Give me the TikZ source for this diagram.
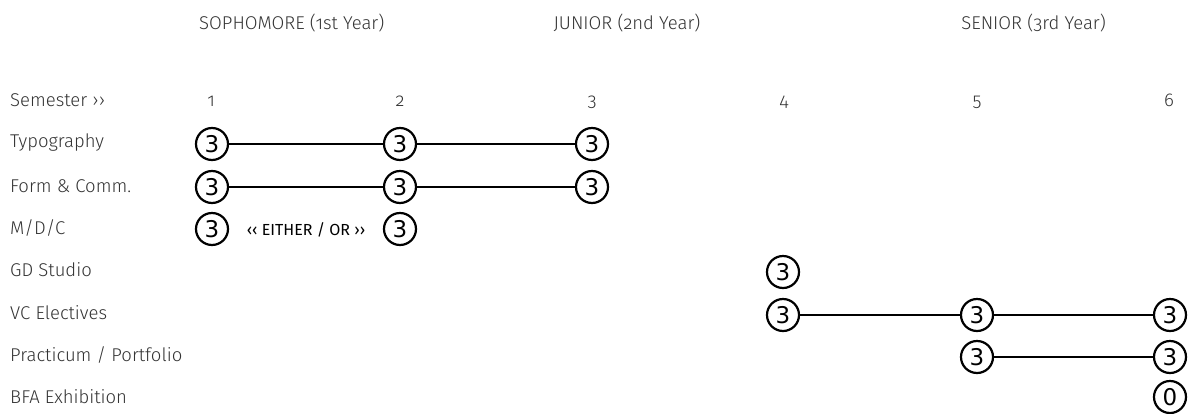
\documentclass[tikz,border=0pt]{standalone}
\usepackage{fontspec}
\newfontfamily\lab{Fira Sans Light}[Numbers=OldStyle]
\newfontfamily\labreg{Fira Sans}
\newfontfamily\circfont{DejaVu Sans}
\definecolor{txt}{HTML}{333333}
\begin{document}
\begin{tikzpicture}[x=1pt,y=-1pt,
  lbl/.style={font=\lab\fontsize{18.5}{20}\selectfont, text=txt, anchor=west, inner sep=0},
  hdr/.style={font=\lab\fontsize{18.5}{20}\selectfont, text=txt, inner sep=0},
  sem/.style={font=\lab\fontsize{18.5}{20}\selectfont, text=txt, inner sep=0, anchor=base},
  cr/.style={circle, draw=black, line width=2.2pt, minimum size=32pt, inner sep=0,
    font=\circfont\fontsize{23}{24}\selectfont},
  link/.style={line width=2.2pt, black}]
\useasboundingbox (0,0) rectangle (1189,413);
% headers
\node[hdr, anchor=west] (h1) at (199,23) {SOPHOMORE (1st Year)};
\node[hdr] (h2) at (627,23) {JUNIOR (2nd Year)};
\node[hdr, anchor=east] (h3) at (1106,23) {SENIOR (3rd Year)};
% row labels
\node[lbl] (lsem) at (10,100) {Semester ›\kern0pt›};
\node[lbl] (ltyp) at (10,143) {Typography};
\node[lbl] (lfor) at (10,186) {Form \& Comm.};
\node[lbl] (lmdc) at (10,228) {M/D/C};
\node[lbl] (lgd) at (10,270) {GD Studio};
\node[lbl] (lvc) at (10,313) {VC Electives};
\node[lbl] (lpr) at (10,355) {Practicum / Portfolio};
\node[lbl] (lbfa) at (10,397) {BFA Exhibition};
% semester numbers
\node[sem] (s1) at (211,106) {1};
\node[sem] (s2) at (400,106) {2};
\node[sem] (s3) at (592,106) {3};
\node[sem] (s4) at (784,106) {4};
\node[sem] (s5) at (977,106) {5};
\node[sem] (s6) at (1169,106) {6};
% circles
\node[cr] (t1) at (212,144) {3};
\node[cr] (t2) at (400,144) {3};
\node[cr] (t3) at (592,144) {3};
\node[cr] (f1) at (212,187) {3};
\node[cr] (f2) at (400,187) {3};
\node[cr] (f3) at (592,187) {3};
\node[cr] (m1) at (212,229) {3};
\node[cr] (m2) at (400,229) {3};
\node[font=\labreg\fontsize{16}{18}\selectfont, text=black, inner sep=0] (eo) at (306,230) {‹\kern0pt‹ EITHER / OR ›\kern0pt›};
\node[cr] (g4) at (783,272) {3};
\node[cr] (v4) at (783,315) {3};
\node[cr] (v5) at (977,315) {3};
\node[cr] (v6) at (1170,315) {3};
\node[cr] (p5) at (977,357) {3};
\node[cr] (p6) at (1170,357) {3};
\node[cr] (b6) at (1170,397) {0};
% links
\draw[link] (t1) -- (t2);
\draw[link] (t2) -- (t3);
\draw[link] (f1) -- (f2);
\draw[link] (f2) -- (f3);
\draw[link] (v4) -- (v5);
\draw[link] (v5) -- (v6);
\draw[link] (p5) -- (p6);
\end{tikzpicture}
\end{document}
